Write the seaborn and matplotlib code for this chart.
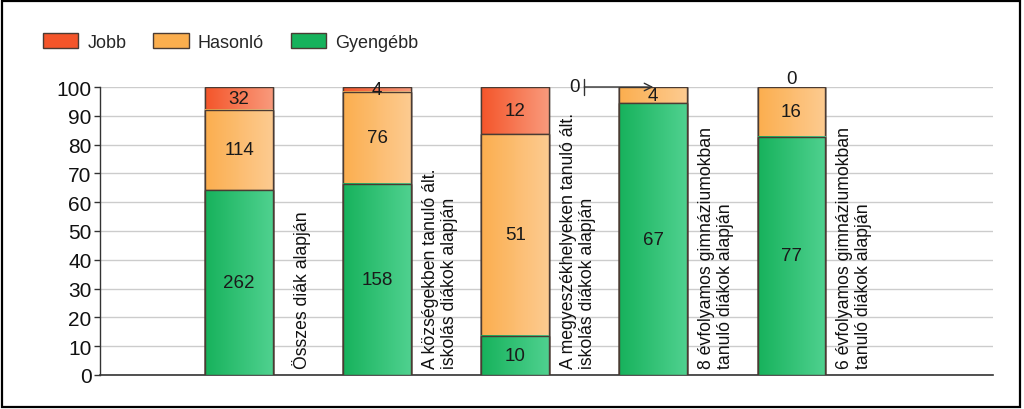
import numpy as np
import pandas as pd
import matplotlib
matplotlib.use("Agg")
import matplotlib.pyplot as plt
import seaborn as sns
from matplotlib.colors import LinearSegmentedColormap
from matplotlib.patches import Rectangle, Patch

# adatok (darabszámok)
categories = [
    "Összes diák alapján",
    "A községekben tanuló ált.\niskolás diákok alapján",
    "A megyeszékhelyeken tanuló ált.\niskolás diákok alapján",
    "8 évfolyamos gimnáziumokban\ntanuló diákok alapján",
    "6 évfolyamos gimnáziumokban\ntanuló diákok alapján",
]
jobb = [32, 4, 12, 0, 0]
hasonlo = [114, 76, 51, 4, 16]
gyengebb = [262, 158, 10, 67, 77]
series_names = ["Jobb", "Hasonló", "Gyengébb"]

df = pd.DataFrame({"cat": categories, "Jobb": jobb, "Hasonló": hasonlo, "Gyengébb": gyengebb})
df["pos"] = np.arange(1, len(df) + 1)
total = df[["Jobb", "Hasonló", "Gyengébb"]].sum(axis=1)
for s in series_names:
    df[s + "_pct"] = df[s] / total * 100
df["cum1"] = df["Gyengébb_pct"]
df["cum2"] = df["cum1"] + df["Hasonló_pct"]
df["cum3"] = df["cum2"] + df["Jobb_pct"]

# szinek: bal (sotetebb) -> jobb (vilagosabb)
grad_colors = {
    "Jobb": ("#f4552a", "#f99a7c"),
    "Hasonló": ("#fbae4e", "#fdcb91"),
    "Gyengébb": ("#17b25c", "#4fd18f"),
}
edge = "#4a3b33"
bar_w = 0.49

sns.set_theme(style="white")
plt.rcParams["font.family"] = ["Liberation Sans", "DejaVu Sans"]

fig = plt.figure(figsize=(10.24, 4.10), dpi=100)
ax = fig.add_axes([100 / 1024, 34 / 410, 893 / 1024, 288 / 410])


def add_gradient(patches, colors, z):
    cmap = LinearSegmentedColormap.from_list("g", list(colors))
    grad = np.linspace(0, 1, 128).reshape(1, -1)
    for p in patches:
        x0, y0 = p.get_x(), p.get_y()
        w, h = p.get_width(), p.get_height()
        if h <= 0:
            continue
        ax.imshow(grad, extent=[x0, x0 + w, y0, y0 + h], aspect="auto",
                  cmap=cmap, zorder=z + 0.1, interpolation="bilinear")
        ax.add_patch(Rectangle((x0, y0), w, h, fill=False, edgecolor=edge,
                               lw=1.0, zorder=z + 0.2))


# stacked bars: hatulrol elore
layers = [("cum3", "Jobb"), ("cum2", "Hasonló"), ("cum1", "Gyengébb")]
for i, (col, name) in enumerate(layers):
    n_before = len(ax.patches)
    z = 2 + i
    sns.barplot(data=df, x="pos", y=col, native_scale=True, width=bar_w,
                color=grad_colors[name][1], edgecolor=edge, linewidth=1.0,
                zorder=z, ax=ax)
    add_gradient(ax.patches[n_before:], grad_colors[name], z)

# ertek cimkek
lab_fs = 13.5
txt_kw = dict(ha="center", va="center", fontsize=lab_fs, color="#1a1a1a", zorder=10)
for _, r in df.iterrows():
    segs = [("Gyengébb", 0), ("Hasonló", r["cum1"]), ("Jobb", r["cum2"])]
    for name, bottom in segs:
        val = r[name]
        pct = r[name + "_pct"]
        if val > 0:
            ax.text(r["pos"], bottom + pct / 2, f"{val}", **txt_kw)

# nulla cimkek a 8 es 6 evfolyamos oszlopoknal
ax.annotate("0", xy=(df["pos"][3], 100), xytext=(-79, 0), textcoords="offset pixels",
            ha="center", va="center", fontsize=lab_fs, color="#1a1a1a", zorder=10,
            arrowprops=dict(arrowstyle="]->, widthA=0.45, lengthA=0", color="#333333",
                            lw=1.0, shrinkA=1, shrinkB=0))
ax.annotate("0", xy=(df["pos"][4], 100), xytext=(0, 8), textcoords="offset pixels",
            ha="center", va="center", fontsize=lab_fs, color="#1a1a1a", zorder=10)

# kategoria cimkek az oszlopok mellett
for _, r in df.iterrows():
    ax.annotate(r["cat"], xy=(r["pos"] + bar_w / 2, 0), xytext=(29, 7),
                textcoords="offset pixels", rotation=90, ha="center", va="bottom",
                multialignment="left", fontsize=12.7, color="#111111",
                linespacing=1.12, zorder=10)

ax.set_xlim(-0.007, 6.46)
ax.set_ylim(0, 100)
ax.set_yticks(range(0, 101, 10))
ax.set_xticks([])
ax.set_xlabel("")
ax.set_ylabel("")
ax.tick_params(axis="y", labelsize=15, length=4, width=1, color="#333333",
               left=True, pad=2, labelcolor="#111111")
ax.yaxis.grid(True, color="#cccccc", lw=1.0, zorder=0)
ax.set_axisbelow(True)
for side in ["top", "right"]:
    ax.spines[side].set_visible(False)
ax.spines["left"].set_color("#333333")
ax.spines["bottom"].set_color("#333333")
ax.spines["left"].set_linewidth(1.0)
ax.spines["bottom"].set_linewidth(1.2)

# jelmagyarazat
handles = [Patch(facecolor=grad_colors[n][0], edgecolor=edge, lw=1.0) for n in series_names]
fig.legend(handles, series_names, loc="center left", bbox_to_anchor=(0.042, 0.895),
           ncol=3, frameon=False, fontsize=13, handlelength=1.95, handleheight=0.9,
           handletextpad=0.5, columnspacing=1.5, borderaxespad=0, borderpad=0)

# kulso keret
fig.patches.append(Rectangle((0.002, 0.004), 0.994, 0.991, transform=fig.transFigure,
                             fill=False, edgecolor="black", lw=1.6))

fig.savefig("out.png", dpi=100)
